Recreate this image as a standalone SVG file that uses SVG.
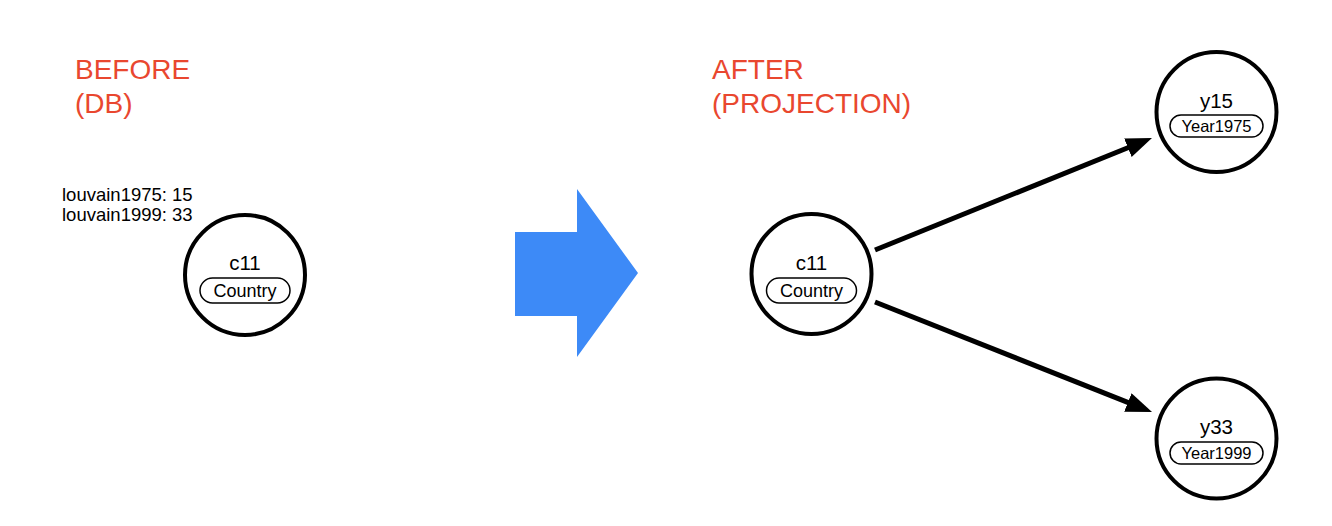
<svg xmlns="http://www.w3.org/2000/svg" width="1332" height="526" viewBox="0 0 1332 526">
<style>
.title{font-family:"Liberation Sans",Arial,sans-serif;font-size:28px;fill:#e9472f}
.node{fill:#fff;stroke:#000;stroke-width:4}
.pill{fill:#fff;stroke:#000;stroke-width:1.5}
.name{font-family:"Liberation Sans",Arial,sans-serif;font-size:20.5px;fill:#000;text-anchor:middle}
.lbl{font-family:"Liberation Sans",Arial,sans-serif;font-size:18px;fill:#000;text-anchor:middle}
.lbls{font-family:"Liberation Sans",Arial,sans-serif;font-size:16.5px;fill:#000;text-anchor:middle}
.prop{font-family:"Liberation Sans",Arial,sans-serif;font-size:18.5px;fill:#000}
.edge{stroke:#000;stroke-width:5;fill:none;marker-end:url(#ah)}
</style>
<defs>
<marker id="ah" markerUnits="userSpaceOnUse" viewBox="0 0 26 20" markerWidth="26" markerHeight="20" refX="8" refY="10" orient="auto">
<path d="M0,0 L26,10 L0,20 z" fill="#000"/>
</marker>
</defs>
<rect width="1332" height="526" fill="#fff"/>
<text class="title" x="75" y="79">BEFORE</text>
<text class="title" x="75" y="113">(DB)</text>
<text class="title" x="712" y="79">AFTER</text>
<text class="title" x="712" y="113">(PROJECTION)</text>
<g id="props">
<text class="prop" x="62" y="201">louvain1975: 15</text>
<text class="prop" x="62" y="221">louvain1999: 33</text>
</g>
<g id="before-c11">
<circle class="node" cx="245" cy="275" r="60"/>
<text class="name" x="245" y="270">c11</text>
<rect class="pill" x="200" y="278" width="90" height="25" rx="12.5"/>
<text class="lbl" x="245" y="297">Country</text>
</g>
<g id="transform-arrow">
<polygon points="515,232 577,232 577,189 638,273 577,357 577,316 515,316" fill="#3d8af7"/>
</g>
<g id="connectors">
<line class="edge" x1="875" y1="250" x2="1135.3" y2="144.7"/>
<line class="edge" x1="875" y1="302" x2="1135.3" y2="405.4"/>
</g>
<g id="after-c11">
<circle class="node" cx="811.5" cy="274" r="60"/>
<text class="name" x="811.5" y="270">c11</text>
<rect class="pill" x="766.5" y="278" width="90" height="25" rx="12.5"/>
<text class="lbl" x="811.5" y="297">Country</text>
</g>
<g id="y15">
<circle class="node" cx="1216.5" cy="112" r="60"/>
<text class="name" x="1216.5" y="108">y15</text>
<rect class="pill" x="1170" y="115" width="93" height="22" rx="11"/>
<text class="lbls" x="1216.5" y="132">Year1975</text>
</g>
<g id="y33">
<circle class="node" cx="1216.5" cy="438.5" r="60"/>
<text class="name" x="1216.5" y="434">y33</text>
<rect class="pill" x="1170" y="442" width="93" height="22" rx="11"/>
<text class="lbls" x="1216.5" y="459">Year1999</text>
</g>
</svg>
